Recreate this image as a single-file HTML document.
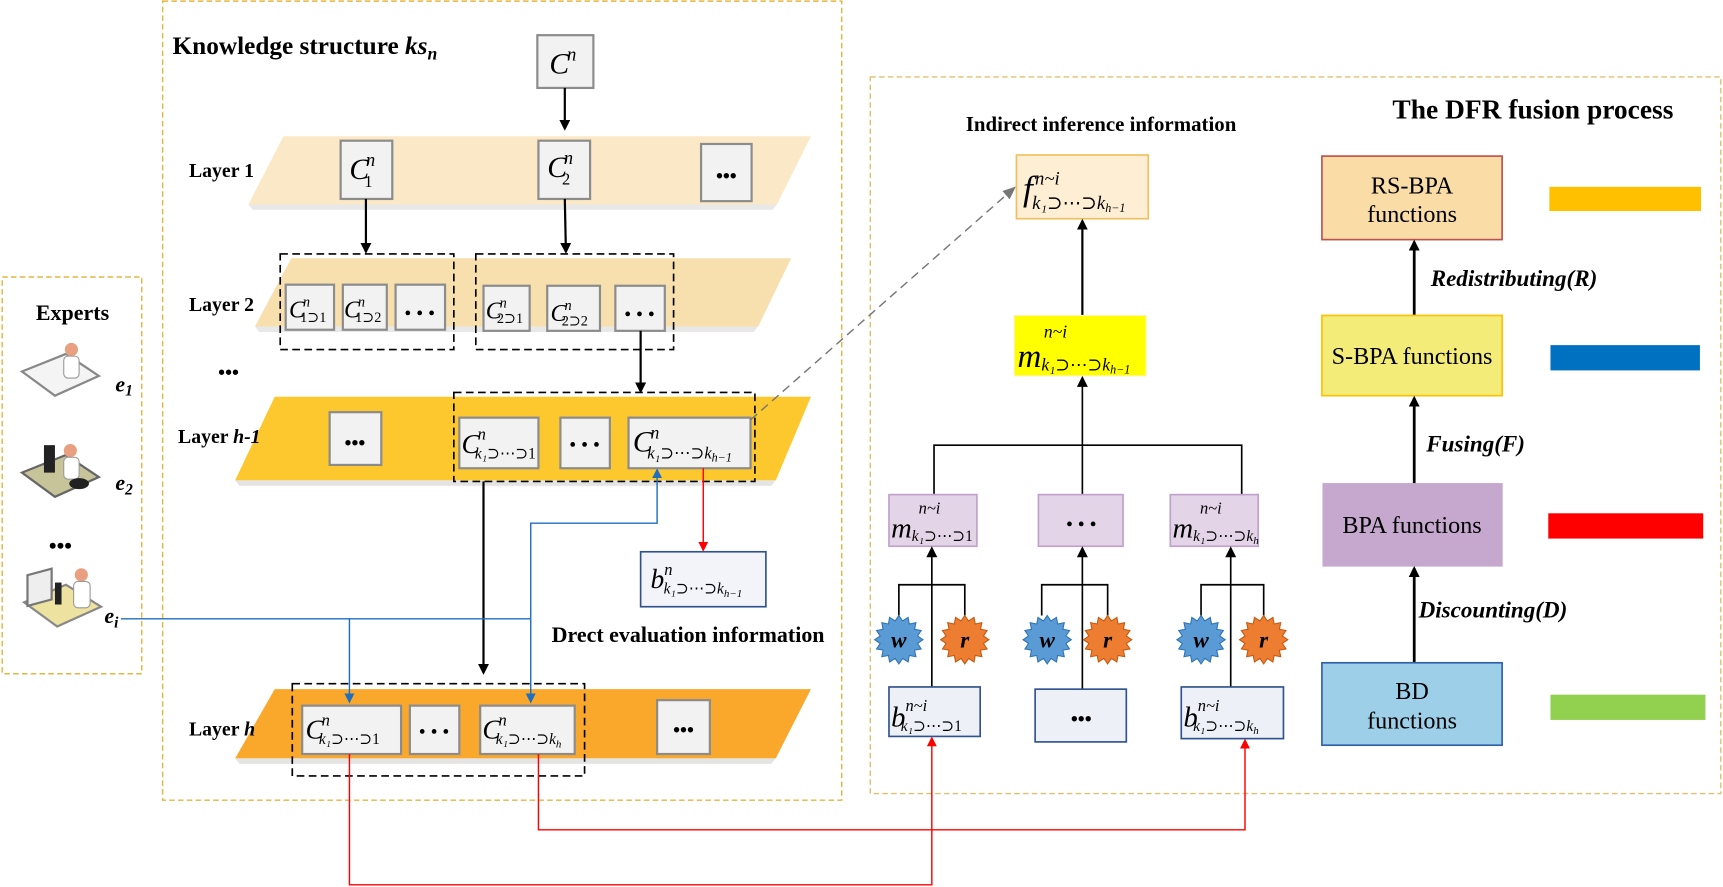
<!DOCTYPE html>
<html><head><meta charset="utf-8"><style>
html,body{margin:0;padding:0;background:#fff;}
svg{display:block;font-family:"Liberation Serif","DejaVu Serif",serif;}
.b{font-weight:bold;}
.bx{fill:#f2f2f2;stroke:#8c8c8c;stroke-width:2;}
.m{font-style:italic;}
</style></head><body>
<svg width="1723" height="887" viewBox="0 0 1568 807" preserveAspectRatio="none" xmlns="http://www.w3.org/2000/svg">
<defs>
<marker id="ak" markerWidth="10" markerHeight="10" refX="8" refY="5" orient="auto" markerUnits="userSpaceOnUse"><path d="M0,0 L10,5 L0,10 z" fill="#000"/></marker>
<marker id="ar" markerWidth="9" markerHeight="9" refX="7" refY="4.5" orient="auto" markerUnits="userSpaceOnUse"><path d="M0,0 L9,4.5 L0,9 z" fill="#f00"/></marker>
<marker id="ab" markerWidth="9" markerHeight="9" refX="7" refY="4.5" orient="auto" markerUnits="userSpaceOnUse"><path d="M0,0 L9,4.5 L0,9 z" fill="#1f6fc0"/></marker>
<marker id="ag" markerWidth="12" markerHeight="10" refX="10" refY="5" orient="auto" markerUnits="userSpaceOnUse"><path d="M0,0 L12,5 L0,10 z" fill="#777"/></marker>
<polygon id="star" points="22,0 17,3.4 20.3,8.4 14.3,9.5 15.5,15.5 9.5,14.3 8.4,20.3 3.4,17 0,22 -3.4,17 -8.4,20.3 -9.5,14.3 -15.5,15.5 -14.3,9.5 -20.3,8.4 -17,3.4 -22,0 -17,-3.4 -20.3,-8.4 -14.3,-9.5 -15.5,-15.5 -9.5,-14.3 -8.4,-20.3 -3.4,-17 0,-22 3.4,-17 8.4,-20.3 9.5,-14.3 15.5,-15.5 14.3,-9.5 20.3,-8.4 17,-3.4"/>
</defs>

<rect x="2" y="252" width="127" height="361" fill="none" stroke="#e6b440" stroke-width="1.3" stroke-dasharray="5,3"/>
<rect x="148" y="1" width="618" height="727" fill="none" stroke="#e6b440" stroke-width="1.3" stroke-dasharray="5,3"/>
<rect x="792" y="70" width="774" height="652" fill="none" stroke="#e0c070" stroke-width="1.3" stroke-dasharray="5,3"/>

<!-- Experts -->
<text x="66" y="291" font-size="20" class="b" text-anchor="middle">Experts</text>
<g>
<polygon points="20,338 60,322 90,342 50,360" fill="#f4f4f4" stroke="#888" stroke-width="2"/>
<circle cx="65" cy="318" r="6" fill="#e8a080"/><rect x="58" y="324" width="14" height="20" rx="4" fill="#fff" stroke="#999"/>
<text x="105" y="356" font-size="20" class="b m">e<tspan font-size="14" dy="4">1</tspan></text>
<polygon points="20,430 60,414 90,434 50,452" fill="#c8c49a" stroke="#666" stroke-width="2"/>
<rect x="40" y="405" width="10" height="25" fill="#222"/>
<circle cx="64" cy="410" r="6" fill="#e8a080"/><rect x="58" y="416" width="14" height="20" rx="4" fill="#fff" stroke="#999"/>
<ellipse cx="72" cy="440" rx="9" ry="5" fill="#222"/>
<text x="105" y="446" font-size="20" class="b m">e<tspan font-size="14" dy="4">2</tspan></text>
<text x="55" y="503" font-size="20" class="b" text-anchor="middle">•••</text>
<polygon points="22,548 60,532 92,552 52,570" fill="#eee2a0" stroke="#888" stroke-width="2"/>
<rect x="25" y="520" width="22" height="28" fill="#eee" stroke="#777" stroke-width="2" transform="skewY(-15) translate(0,10)"/>
<rect x="50" y="530" width="6" height="20" fill="#222"/>
<circle cx="74" cy="523" r="6" fill="#e8a080"/><rect x="67" y="529" width="15" height="24" rx="4" fill="#fff" stroke="#999"/>
<text x="95" y="567" font-size="20" class="b m">e<tspan font-size="14" dy="4">i</tspan></text>
</g>

<text x="157" y="49" font-size="23" class="b">Knowledge structure <tspan class="m">ks</tspan><tspan class="m" font-size="16" dy="5">n</tspan></text>

<!-- bands -->
<polygon points="258,124 738,124 707,186 226,186" fill="#fbe8c6"/>
<polygon points="226,186 707,186 703,191 230,191" fill="#e8e8e8"/>
<polygon points="265,235 720,235 690,297 232,297" fill="#f8e0ae"/>
<polygon points="232,297 690,297 686,302 236,302" fill="#e8e8e8"/>
<polygon points="250,361 738,361 706,437 214,437" fill="#fdc72e"/>
<polygon points="214,437 706,437 702,442 218,442" fill="#e4e4e4"/>
<polygon points="250,627 738,627 706,690 214,690" fill="#f9a82c"/>
<polygon points="214,690 706,690 702,695 218,695" fill="#e4e4e4"/>

<text x="172" y="161" font-size="18" class="b">Layer 1</text>
<text x="172" y="283" font-size="18" class="b">Layer 2</text>
<text x="208" y="345" font-size="18" class="b" text-anchor="middle">•••</text>
<text x="162" y="403" font-size="18" class="b">Layer <tspan class="m">h-1</tspan></text>
<text x="172" y="669" font-size="18" class="b">Layer <tspan class="m">h</tspan></text>

<!-- C^n -->
<rect class="bx" x="489" y="32" width="51" height="48"/>
<text x="500" y="67" font-size="27" class="m">C<tspan font-size="17" dy="-12" dx="-2">n</tspan></text>
<line x1="514" y1="80" x2="514" y2="117" stroke="#000" stroke-width="2" marker-end="url(#ak)"/>

<rect class="bx" x="310" y="128" width="47" height="53"/>
<text x="318" y="163" font-size="27" class="m">C<tspan font-size="17" dy="-12" dx="-3">n</tspan><tspan font-size="15" dy="19" dx="-10" font-style="normal">1</tspan></text>
<rect class="bx" x="490" y="128" width="47" height="53"/>
<text x="498" y="161" font-size="27" class="m">C<tspan font-size="17" dy="-12" dx="-3">n</tspan><tspan font-size="15" dy="19" dx="-10" font-style="normal">2</tspan></text>
<rect class="bx" x="638" y="131" width="46" height="52"/>
<text x="661" y="166" font-size="18" class="b" text-anchor="middle">•••</text>
<line x1="333" y1="181" x2="333" y2="229" stroke="#000" stroke-width="2" marker-end="url(#ak)"/>
<line x1="514" y1="181" x2="515" y2="229" stroke="#000" stroke-width="2" marker-end="url(#ak)"/>

<!-- layer2 -->
<rect x="255" y="231" width="158" height="87" fill="none" stroke="#000" stroke-width="1.5" stroke-dasharray="7,4"/>
<rect x="433" y="231" width="180" height="87" fill="none" stroke="#000" stroke-width="1.5" stroke-dasharray="7,4"/>
<rect class="bx" x="260" y="259" width="44" height="41"/>
<text x="263" y="289" font-size="22" class="m">C<tspan font-size="13" dy="-10" dx="-2">n</tspan><tspan font-size="13" dy="14" dx="-9" font-style="normal">1⊃1</tspan></text>
<rect class="bx" x="312" y="259" width="40" height="41"/>
<text x="313" y="289" font-size="22" class="m">C<tspan font-size="13" dy="-10" dx="-2">n</tspan><tspan font-size="13" dy="14" dx="-9" font-style="normal">1⊃2</tspan></text>
<rect class="bx" x="360" y="259" width="45" height="41"/>
<text x="382" y="291" font-size="18" text-anchor="middle">• • •</text>
<rect class="bx" x="440" y="260" width="42" height="41"/>
<text x="442" y="290" font-size="22" class="m">C<tspan font-size="13" dy="-10" dx="-2">n</tspan><tspan font-size="13" dy="14" dx="-9" font-style="normal">2⊃1</tspan></text>
<rect class="bx" x="498" y="260" width="48" height="41"/>
<text x="501" y="292" font-size="22" class="m">C<tspan font-size="13" dy="-10" dx="-2">n</tspan><tspan font-size="13" dy="14" dx="-9" font-style="normal">2⊃2</tspan></text>
<rect class="bx" x="560" y="260" width="45" height="41"/>
<text x="582" y="292" font-size="18" text-anchor="middle">• • •</text>
<line x1="583" y1="301" x2="583" y2="356" stroke="#000" stroke-width="2" marker-end="url(#ak)"/>

<!-- layer h-1 -->
<rect class="bx" x="300" y="375" width="47" height="48"/>
<text x="323" y="409" font-size="18" class="b" text-anchor="middle">•••</text>
<rect x="413" y="357" width="274" height="81" fill="none" stroke="#000" stroke-width="1.5" stroke-dasharray="7,4"/>
<rect class="bx" x="418" y="380" width="72" height="46"/>
<text x="420" y="412" font-size="25" class="m">C<tspan font-size="15" dy="-12" dx="-2">n</tspan><tspan font-size="14" dy="17" dx="-10">k₁</tspan><tspan font-size="14" font-style="normal">⊃⋯⊃1</tspan></text>
<rect class="bx" x="510" y="380" width="45" height="46"/>
<text x="532" y="411" font-size="18" text-anchor="middle">• • •</text>
<rect class="bx" x="572" y="380" width="111" height="46"/>
<text x="576" y="411" font-size="27" class="m">C<tspan font-size="16" dy="-12" dx="-2">n</tspan><tspan font-size="15" dy="18" dx="-11">k₁</tspan><tspan font-size="15" font-style="normal">⊃⋯⊃</tspan><tspan font-size="15">k</tspan><tspan font-size="11" dy="3">h−1</tspan></text>

<!-- layer h -->
<rect x="266" y="622" width="266" height="84" fill="none" stroke="#000" stroke-width="1.5" stroke-dasharray="7,4"/>
<rect class="bx" x="275" y="642" width="90" height="44"/>
<text x="278" y="672" font-size="25" class="m">C<tspan font-size="15" dy="-12" dx="-2">n</tspan><tspan font-size="14" dy="17" dx="-10">k₁</tspan><tspan font-size="14" font-style="normal">⊃⋯⊃1</tspan></text>
<rect class="bx" x="373" y="642" width="45" height="44"/>
<text x="395" y="672" font-size="18" text-anchor="middle">• • •</text>
<rect class="bx" x="437" y="642" width="86" height="44"/>
<text x="439" y="672" font-size="25" class="m">C<tspan font-size="15" dy="-12" dx="-2">n</tspan><tspan font-size="14" dy="17" dx="-10">k₁</tspan><tspan font-size="14" font-style="normal">⊃⋯⊃</tspan><tspan font-size="14">k</tspan><tspan font-size="10" dy="3">h</tspan></text>
<rect class="bx" x="598" y="637" width="48" height="49"/>
<text x="622" y="670" font-size="18" class="b" text-anchor="middle">•••</text>

<line x1="440" y1="438" x2="440" y2="612" stroke="#000" stroke-width="2" marker-end="url(#ak)"/>

<line x1="640" y1="426" x2="640" y2="500" stroke="#f00" stroke-width="1.3" marker-end="url(#ar)"/>
<rect x="583" y="502" width="114" height="50" fill="#f2f4fa" stroke="#2f528f" stroke-width="1.5"/>
<text x="592" y="535" font-size="25" class="m">b<tspan font-size="15" dy="-12">n</tspan><tspan font-size="14" dy="17" dx="-8">k₁</tspan><tspan font-size="14" font-style="normal">⊃⋯⊃</tspan><tspan font-size="14">k</tspan><tspan font-size="10" dy="3">h−1</tspan></text>
<text x="502" y="584" font-size="20" class="b">Drect evaluation information</text>

<!-- blue -->
<polyline points="110,563 318,563 318,638" fill="none" stroke="#1f6fc0" stroke-width="1.3" marker-end="url(#ab)"/>
<polyline points="483,563 483,476 598,476 598,428" fill="none" stroke="#1f6fc0" stroke-width="1.3" marker-end="url(#ab)"/>
<line x1="318" y1="563" x2="483" y2="563" stroke="#1f6fc0" stroke-width="1.3"/>
<line x1="483" y1="563" x2="483" y2="638" stroke="#1f6fc0" stroke-width="1.3" marker-end="url(#ab)"/>

<polyline points="318,686 318,805 848,805 848,672" fill="none" stroke="#f00" stroke-width="1.3" marker-end="url(#ar)"/>
<polyline points="490,686 490,755 1133,755 1133,674" fill="none" stroke="#f00" stroke-width="1.3" marker-end="url(#ar)"/>

<line x1="683" y1="382" x2="923" y2="171" stroke="#777" stroke-width="1.3" stroke-dasharray="8,5" marker-end="url(#ag)"/>

<!-- DFR -->
<text x="1002" y="119" font-size="19" class="b" text-anchor="middle">Indirect inference information</text>
<rect x="925" y="141" width="120" height="58" fill="#fdeed4" stroke="#f0c060" stroke-width="1.5"/>
<text x="931" y="182" font-size="32" class="m">f<tspan font-size="17" dy="-14" dx="2">n~i</tspan><tspan font-size="17" dy="22" dx="-25">k₁</tspan><tspan font-size="17" font-style="normal">⊃⋯⊃</tspan><tspan font-size="17">k</tspan><tspan font-size="11" dy="3">h−1</tspan></text>
<line x1="985" y1="287" x2="985" y2="201" stroke="#000" stroke-width="2" marker-end="url(#ak)"/>
<rect x="923" y="287" width="120" height="55" fill="#ffff00" stroke="#fff0c0"/>
<text x="950" y="307" font-size="16" class="m">n~i</text>
<text x="926" y="334" font-size="30" class="m">m<tspan font-size="16" dy="3">k₁</tspan><tspan font-size="16" font-style="normal">⊃⋯⊃</tspan><tspan font-size="16">k</tspan><tspan font-size="11" dy="3">h−1</tspan></text>

<polyline points="850,450 850,405 1130,405 1130,450" fill="none" stroke="#000" stroke-width="1.5"/>
<line x1="985" y1="450" x2="985" y2="344" stroke="#000" stroke-width="1.5" marker-end="url(#ak)"/>

<rect x="809" y="450" width="80" height="47" fill="#e4d4e8" stroke="#c0a0cc" stroke-width="1.5"/>
<text x="836" y="467" font-size="15" class="m">n~i</text>
<text x="811" y="489" font-size="26" class="m">m<tspan font-size="14" dy="3">k₁</tspan><tspan font-size="14" font-style="normal">⊃⋯⊃1</tspan></text>
<rect x="945" y="450" width="77" height="47" fill="#e4d4e8" stroke="#c0a0cc" stroke-width="1.5"/>
<text x="984" y="483" font-size="18" text-anchor="middle">• • •</text>
<rect x="1065" y="450" width="80" height="47" fill="#e4d4e8" stroke="#c0a0cc" stroke-width="1.5"/>
<text x="1092" y="467" font-size="15" class="m">n~i</text>
<text x="1067" y="489" font-size="26" class="m">m<tspan font-size="14" dy="3">k₁</tspan><tspan font-size="14" font-style="normal">⊃⋯⊃</tspan><tspan font-size="14">k</tspan><tspan font-size="10" dy="3">h</tspan></text>

<g stroke="#000" stroke-width="1.5" fill="none">
<polyline points="818,560 818,532 878,532 878,560"/>
<polyline points="948,560 948,532 1008,532 1008,560"/>
<polyline points="1093,560 1093,532 1150,532 1150,560"/>
</g>
<line x1="848" y1="625" x2="848" y2="499" stroke="#000" stroke-width="1.5" marker-end="url(#ak)"/>
<line x1="985" y1="627" x2="985" y2="499" stroke="#000" stroke-width="1.5" marker-end="url(#ak)"/>
<line x1="1120" y1="625" x2="1120" y2="499" stroke="#000" stroke-width="1.5" marker-end="url(#ak)"/>
<g font-size="21" class="b m" text-anchor="middle" fill="#000">
<use href="#star" x="818" y="582" fill="#5b9bd5" stroke="#2e75b6"/><text x="818" y="589">w</text>
<use href="#star" x="878" y="582" fill="#ed7d31" stroke="#c55a11"/><text x="878" y="589">r</text>
<use href="#star" x="953" y="582" fill="#5b9bd5" stroke="#2e75b6"/><text x="953" y="589">w</text>
<use href="#star" x="1008" y="582" fill="#ed7d31" stroke="#c55a11"/><text x="1008" y="589">r</text>
<use href="#star" x="1093" y="582" fill="#5b9bd5" stroke="#2e75b6"/><text x="1093" y="589">w</text>
<use href="#star" x="1150" y="582" fill="#ed7d31" stroke="#c55a11"/><text x="1150" y="589">r</text>
</g>

<rect x="809" y="625" width="83" height="45" fill="#eef0f8" stroke="#2f528f" stroke-width="1.5"/>
<text x="811" y="661" font-size="26" class="m">b<tspan font-size="15" dy="-14">n~i</tspan><tspan font-size="14" dy="18" dx="-24">k₁</tspan><tspan font-size="14" font-style="normal">⊃⋯⊃1</tspan></text>
<rect x="942" y="627" width="83" height="48" fill="#eef0f8" stroke="#2f528f" stroke-width="1.5"/>
<text x="984" y="660" font-size="18" class="b" text-anchor="middle">•••</text>
<rect x="1075" y="625" width="93" height="47" fill="#eef0f8" stroke="#2f528f" stroke-width="1.5"/>
<text x="1077" y="661" font-size="26" class="m">b<tspan font-size="15" dy="-14">n~i</tspan><tspan font-size="14" dy="18" dx="-24">k₁</tspan><tspan font-size="14" font-style="normal">⊃⋯⊃</tspan><tspan font-size="14">k</tspan><tspan font-size="10" dy="3">h</tspan></text>

<!-- right column -->
<text x="1395" y="108" font-size="25" class="b" text-anchor="middle">The DFR fusion process</text>
<rect x="1203" y="142" width="164" height="76" fill="#f9dca6" stroke="#c0504d" stroke-width="1.5"/>
<text x="1285" y="176" font-size="22" text-anchor="middle">RS-BPA</text>
<text x="1285" y="202" font-size="22" text-anchor="middle">functions</text>
<line x1="1287" y1="287" x2="1287" y2="220" stroke="#000" stroke-width="2.5" marker-end="url(#ak)"/>
<text x="1302" y="260" font-size="21" class="b m">Redistributing(R)</text>
<rect x="1203" y="287" width="164" height="73" fill="#f3ec78" stroke="#ffc000" stroke-width="1.5"/>
<text x="1285" y="331" font-size="22" text-anchor="middle">S-BPA functions</text>
<line x1="1287" y1="440" x2="1287" y2="362" stroke="#000" stroke-width="2.5" marker-end="url(#ak)"/>
<text x="1298" y="411" font-size="21" class="b m">Fusing(F)</text>
<rect x="1204" y="440" width="163" height="75" fill="#c6a8cf" stroke="#c6a8cf"/>
<text x="1285" y="485" font-size="22" text-anchor="middle">BPA functions</text>
<line x1="1287" y1="603" x2="1287" y2="517" stroke="#000" stroke-width="2.5" marker-end="url(#ak)"/>
<text x="1291" y="562" font-size="21" class="b m">Discounting(D)</text>
<rect x="1203" y="603" width="164" height="75" fill="#9dd0e8" stroke="#2e5fa8" stroke-width="1.5"/>
<text x="1285" y="636" font-size="22" text-anchor="middle">BD</text>
<text x="1285" y="663" font-size="22" text-anchor="middle">functions</text>

<rect x="1410" y="170" width="138" height="22" fill="#ffc000"/>
<rect x="1411" y="314" width="136" height="23" fill="#0070c0"/>
<rect x="1409" y="467" width="141" height="23" fill="#ff0000"/>
<rect x="1411" y="632" width="141" height="23" fill="#92d050"/>
</svg>
</body></html>
